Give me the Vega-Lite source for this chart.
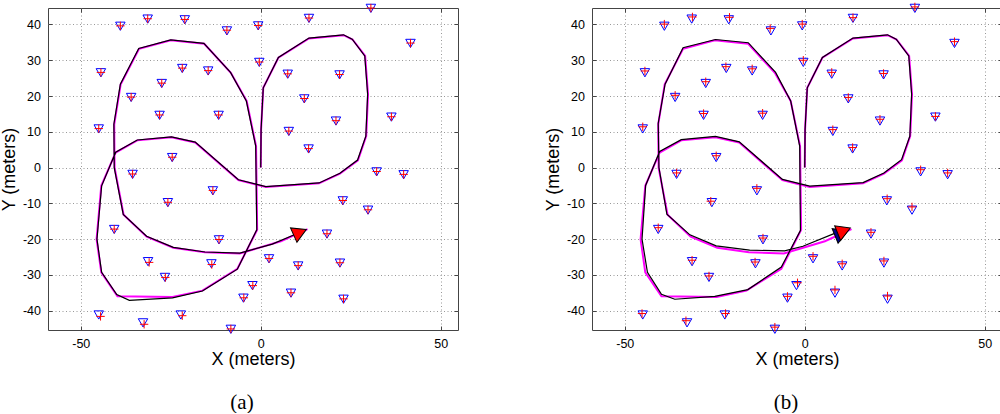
{
  "$schema": "https://vega.github.io/schema/vega-lite/v6.json",
  "background": "white",
  "padding": {"left": 0, "top": 0, "right": 0, "bottom": 0},
  "spacing": 85,
  "datasets": {
    "lm": [
      {"x": -39, "y": 39.5}, {"x": -31.4, "y": 41.5}, {"x": -21.1, "y": 41.3}, {"x": -9.4, "y": 38.2}, {"x": -0.7, "y": 39.6},
      {"x": -44.4, "y": 26.5}, {"x": -21.8, "y": 27.7}, {"x": -14.6, "y": 27}, {"x": -27.5, "y": 23.5}, {"x": -0.4, "y": 29.4},
      {"x": -36, "y": 19.6}, {"x": -28.1, "y": 14.6}, {"x": -11.7, "y": 14.6}, {"x": -45, "y": 10.8}, {"x": -24.6, "y": 2.8},
      {"x": 30.6, "y": 44.5}, {"x": 13.4, "y": 41.7}, {"x": 41.6, "y": 34.7}, {"x": 7.5, "y": 26.1}, {"x": 21.9, "y": 25.9},
      {"x": 12.1, "y": 19.2}, {"x": 36.3, "y": 14.1}, {"x": 20.9, "y": 13.0}, {"x": 7.8, "y": 10.1}, {"x": 13.3, "y": 5.2},
      {"x": 32.2, "y": -1.2}, {"x": 39.7, "y": -2.0}, {"x": -35.6, "y": -1.9}, {"x": -13.3, "y": -6.5}, {"x": -25.8, "y": -9.8},
      {"x": -40.7, "y": -17.3}, {"x": -11.6, "y": -20.2}, {"x": -31.3, "y": -26.3}, {"x": -13.7, "y": -26.9}, {"x": -26.6, "y": -30.7},
      {"x": -2.3, "y": -33}, {"x": -4.8, "y": -36.5}, {"x": 2.3, "y": -25.5}, {"x": -45, "y": -41.2}, {"x": -32.7, "y": -43.4},
      {"x": -22.2, "y": -41.2}, {"x": -8.3, "y": -45.2}, {"x": 22.8, "y": -9.3}, {"x": 29.8, "y": -11.9}, {"x": 18.4, "y": -18.6},
      {"x": 10.4, "y": -27.5}, {"x": 22.0, "y": -26.7}, {"x": 8.4, "y": -35.1}, {"x": 23, "y": -36.8}
    ],
    "ea": [
      {"x": -39, "y": 39.6}, {"x": -31.4, "y": 41.6}, {"x": -21.1, "y": 41.4}, {"x": -9.4, "y": 38.4}, {"x": -0.7, "y": 39.7},
      {"x": -44.4, "y": 26.6}, {"x": -21.8, "y": 27.8}, {"x": -14.6, "y": 27.1}, {"x": -27.5, "y": 23.6}, {"x": -0.4, "y": 29.5},
      {"x": -36, "y": 19.7}, {"x": -28.1, "y": 14.7}, {"x": -11.7, "y": 14.7}, {"x": -45, "y": 10.9}, {"x": -24.6, "y": 2.9},
      {"x": 30.6, "y": 44.6}, {"x": 13.4, "y": 41.8}, {"x": 41.6, "y": 34.8}, {"x": 7.5, "y": 26.2}, {"x": 21.9, "y": 26.0},
      {"x": 12.1, "y": 19.3}, {"x": 36.3, "y": 14.2}, {"x": 20.9, "y": 13.1}, {"x": 7.8, "y": 10.2}, {"x": 13.3, "y": 5.3},
      {"x": 32.2, "y": -1.1}, {"x": 39.7, "y": -1.9}, {"x": -35.6, "y": -1.8}, {"x": -13.3, "y": -6.4}, {"x": -25.8, "y": -9.7},
      {"x": -40.7, "y": -17.2}, {"x": -11.6, "y": -20.1}, {"x": -31.0, "y": -26.5}, {"x": -13.6, "y": -27.1}, {"x": -26.5, "y": -30.7},
      {"x": -2.2, "y": -33}, {"x": -4.7, "y": -36.4}, {"x": 2.3, "y": -25.4}, {"x": -44.5, "y": -41.6}, {"x": -32.4, "y": -43.8},
      {"x": -21.8, "y": -41.4}, {"x": -8.3, "y": -45.1}, {"x": 22.8, "y": -9.2}, {"x": 29.8, "y": -11.8}, {"x": 18.4, "y": -18.5},
      {"x": 10.4, "y": -27.4}, {"x": 22.0, "y": -26.6}, {"x": 8.4, "y": -35.0}, {"x": 23, "y": -36.7}
    ],
    "eb": [
      {"x": -39, "y": 40.1}, {"x": -31.2, "y": 42.1}, {"x": -20.9, "y": 42.0}, {"x": -9.6, "y": 38.9}, {"x": -0.7, "y": 40.1},
      {"x": -44.4, "y": 27.0}, {"x": -21.9, "y": 28.2}, {"x": -14.6, "y": 27.6}, {"x": -27.5, "y": 24.0}, {"x": -0.4, "y": 30.0},
      {"x": -36, "y": 20.2}, {"x": -28.1, "y": 15.1}, {"x": -11.7, "y": 15.2}, {"x": -45, "y": 11.4}, {"x": -24.6, "y": 3.3},
      {"x": 30.6, "y": 44.9}, {"x": 13.4, "y": 41.9}, {"x": 41.6, "y": 35.2}, {"x": 7.5, "y": 26.6}, {"x": 21.9, "y": 26.3},
      {"x": 12.1, "y": 19.6}, {"x": 36.3, "y": 14.3}, {"x": 20.9, "y": 13.5}, {"x": 7.8, "y": 10.6}, {"x": 13.3, "y": 5.6},
      {"x": 32.2, "y": -0.6}, {"x": 39.7, "y": -1.5}, {"x": -35.6, "y": -1.5}, {"x": -13.3, "y": -5.8}, {"x": -26.1, "y": -9.4},
      {"x": -40.7, "y": -16.8}, {"x": -11.6, "y": -19.7}, {"x": -31.3, "y": -25.9}, {"x": -13.8, "y": -26.4}, {"x": -26.6, "y": -30.3},
      {"x": -2.0, "y": -32.2}, {"x": -4.8, "y": -36.0}, {"x": 2.3, "y": -24.8}, {"x": -45.2, "y": -40.8}, {"x": -33.0, "y": -42.8},
      {"x": -22.0, "y": -40.8}, {"x": -8.3, "y": -44.6}, {"x": 22.9, "y": -8.7}, {"x": 29.8, "y": -11.0}, {"x": 18.4, "y": -18.1},
      {"x": 10.4, "y": -26.9}, {"x": 22.0, "y": -26.1}, {"x": 8.4, "y": -34.2}, {"x": 23, "y": -35.9}
    ],
    "tp": [
      {"i": 0, "x": 0, "y": 0}, {"i": 1, "x": 0.1, "y": 10.7}, {"i": 2, "x": 0.7, "y": 22.3}, {"i": 3, "x": 4.9, "y": 30.7},
      {"i": 4, "x": 13.4, "y": 36.1}, {"i": 5, "x": 23, "y": 37}, {"i": 6, "x": 25.5, "y": 35.8}, {"i": 7, "x": 29, "y": 31.2},
      {"i": 8, "x": 29.8, "y": 20.5}, {"i": 9, "x": 29.3, "y": 8.8}, {"i": 10, "x": 27, "y": 2}, {"i": 11, "x": 22, "y": -1.7},
      {"i": 12, "x": 16.2, "y": -4.4}, {"i": 13, "x": 1.4, "y": -5.4}, {"i": 14, "x": -6.2, "y": -3.5}, {"i": 15, "x": -18.2, "y": 7.0},
      {"i": 16, "x": -24.8, "y": 8.5}, {"i": 17, "x": -34.3, "y": 7.6}, {"i": 18, "x": -40.3, "y": 4.2}, {"i": 19, "x": -44.3, "y": -5.1},
      {"i": 20, "x": -45.6, "y": -20}, {"i": 21, "x": -44.3, "y": -29.3}, {"i": 22, "x": -39.8, "y": -36.0}, {"i": 23, "x": -24.5, "y": -36.2},
      {"i": 24, "x": -16.2, "y": -34.4}, {"i": 25, "x": -6.5, "y": -28.3}, {"i": 26, "x": -1.0, "y": -17.4}, {"i": 27, "x": -1.3, "y": 6.0},
      {"i": 28, "x": -3.9, "y": 18.6}, {"i": 29, "x": -8.3, "y": 26.5}, {"i": 30, "x": -15.7, "y": 34.6}, {"i": 31, "x": -25, "y": 35.6},
      {"i": 32, "x": -33.8, "y": 33.2}, {"i": 33, "x": -38.9, "y": 23.3}, {"i": 34, "x": -40.7, "y": 12.1}, {"i": 35, "x": -40.6, "y": 0},
      {"i": 36, "x": -38.1, "y": -13.2}, {"i": 37, "x": -31.7, "y": -19.3}, {"i": 38, "x": -24.3, "y": -22.4}, {"i": 39, "x": -15.5, "y": -23.7},
      {"i": 40, "x": -5.8, "y": -24.0}, {"i": 41, "x": 5.6, "y": -20.6}, {"i": 42, "x": 13.0, "y": -17.2}
    ],
    "pa": [
      {"i": 0, "x": 0, "y": 0}, {"i": 1, "x": 0.1, "y": 10.7}, {"i": 2, "x": 0.7, "y": 22.3}, {"i": 3, "x": 4.9, "y": 30.8},
      {"i": 4, "x": 13.4, "y": 36.2}, {"i": 5, "x": 23, "y": 37.1}, {"i": 6, "x": 25.4, "y": 35.9}, {"i": 7, "x": 28.9, "y": 31.2},
      {"i": 8, "x": 29.7, "y": 20.5}, {"i": 9, "x": 29.2, "y": 8.8}, {"i": 10, "x": 26.9, "y": 2.1}, {"i": 11, "x": 22, "y": -1.6},
      {"i": 12, "x": 16.2, "y": -4.3}, {"i": 13, "x": 1.4, "y": -5.3}, {"i": 14, "x": -6.2, "y": -3.4}, {"i": 15, "x": -18.2, "y": 7.1},
      {"i": 16, "x": -24.8, "y": 8.6}, {"i": 17, "x": -34.3, "y": 7.7}, {"i": 18, "x": -40.3, "y": 4.3}, {"i": 19, "x": -44.2, "y": -5.1},
      {"i": 20, "x": -45.5, "y": -20}, {"i": 21, "x": -44.2, "y": -29.3}, {"i": 22, "x": -40.0, "y": -35.5}, {"i": 23, "x": -36.5, "y": -37.1},
      {"i": 24, "x": -24.5, "y": -36.4}, {"i": 25, "x": -16.2, "y": -34.5}, {"i": 26, "x": -6.5, "y": -28.4}, {"i": 27, "x": -1.1, "y": -17.4},
      {"i": 28, "x": -1.4, "y": 6.0}, {"i": 29, "x": -4.0, "y": 18.6}, {"i": 30, "x": -8.4, "y": 26.6}, {"i": 31, "x": -15.8, "y": 34.7},
      {"i": 32, "x": -25, "y": 35.7}, {"i": 33, "x": -33.9, "y": 33.3}, {"i": 34, "x": -39.0, "y": 23.3}, {"i": 35, "x": -40.8, "y": 12.1},
      {"i": 36, "x": -40.7, "y": 0}, {"i": 37, "x": -38.2, "y": -13.1}, {"i": 38, "x": -31.7, "y": -19.2}, {"i": 39, "x": -24.3, "y": -22.3},
      {"i": 40, "x": -15.5, "y": -23.6}, {"i": 41, "x": -5.8, "y": -23.9}, {"i": 42, "x": 3.2, "y": -21.4}, {"i": 43, "x": 9.5, "y": -18.7}
    ],
    "pb": [
      {"i": 0, "x": 0, "y": 0}, {"i": 1, "x": 0.1, "y": 10.7}, {"i": 2, "x": 0.7, "y": 22.3}, {"i": 3, "x": 4.9, "y": 30.8},
      {"i": 4, "x": 13.4, "y": 36.2}, {"i": 5, "x": 23, "y": 37.1}, {"i": 6, "x": 25.4, "y": 35.9}, {"i": 7, "x": 28.9, "y": 31.2},
      {"i": 8, "x": 29.7, "y": 20.5}, {"i": 9, "x": 29.2, "y": 8.8}, {"i": 10, "x": 26.9, "y": 2.2}, {"i": 11, "x": 22, "y": -1.5},
      {"i": 12, "x": 16.2, "y": -4.2}, {"i": 13, "x": 1.4, "y": -5.2}, {"i": 14, "x": -6.2, "y": -3.3}, {"i": 15, "x": -18.2, "y": 7.2},
      {"i": 16, "x": -24.8, "y": 8.7}, {"i": 17, "x": -34.3, "y": 7.8}, {"i": 18, "x": -40.3, "y": 4.5}, {"i": 19, "x": -44.2, "y": -5.0},
      {"i": 20, "x": -45.2, "y": -20.0}, {"i": 21, "x": -43.7, "y": -29.3}, {"i": 22, "x": -39.8, "y": -35.4}, {"i": 23, "x": -36.1, "y": -36.8},
      {"i": 24, "x": -25, "y": -36.0}, {"i": 25, "x": -15.8, "y": -34.1}, {"i": 26, "x": -6.5, "y": -27.8}, {"i": 27, "x": -1.2, "y": -17.6},
      {"i": 28, "x": -1.4, "y": 6.0}, {"i": 29, "x": -3.9, "y": 18.6}, {"i": 30, "x": -8.1, "y": 26.6}, {"i": 31, "x": -15.7, "y": 34.9},
      {"i": 32, "x": -24.8, "y": 35.8}, {"i": 33, "x": -33.8, "y": 33.5}, {"i": 34, "x": -38.8, "y": 23.3}, {"i": 35, "x": -40.7, "y": 12.4},
      {"i": 36, "x": -40.5, "y": 0}, {"i": 37, "x": -38.3, "y": -13.0}, {"i": 38, "x": -31.9, "y": -18.8}, {"i": 39, "x": -24.6, "y": -21.9},
      {"i": 40, "x": -15.3, "y": -23.1}, {"i": 41, "x": -5.6, "y": -23.3}, {"i": 42, "x": -0.5, "y": -22.0}, {"i": 43, "x": 8.3, "y": -18.4}
    ],
    "pose": [
      {"p": "a", "c": "r", "x": 10.9, "y": -18.1, "a": 336},
      {"p": "b", "c": "b", "x": 10.2, "y": -18.4, "a": 338},
      {"p": "b", "c": "r", "x": 10.9, "y": -17.6, "a": 338}
    ]
  },
  "hconcat": [
    {
      "width": 410, "height": 322,
      "title": {"text": "(a)", "orient": "bottom", "anchor": "middle", "frame": "group", "dx": -11, "offset": 23, "font": "Liberation Serif", "fontSize": 21, "fontWeight": "normal", "color": "#000"},
      "resolve": {"axis": {"x": "independent", "y": "independent"}},
      "layer": [
        {"data": {"name": "tp"}, "mark": {"type": "line", "color": "#ff00ff", "strokeWidth": 2},
         "encoding": {
           "x": {"field": "x", "type": "quantitative", "scale": {"domain": [-59.1, 54.8], "nice": false, "zero": false},
                 "axis": {"values": [-50, 0, 50], "title": "X (meters)", "labelExpr": "'' + datum.value", "grid": true, "labelPadding": 11, "titlePadding": 1, "labelFlush": false}},
           "y": {"field": "y", "type": "quantitative", "scale": {"domain": [-45.4, 44.6], "nice": false, "zero": false},
                 "axis": {"values": [-40, -30, -20, -10, 0, 10, 20, 30, 40], "title": "Y (meters)", "labelExpr": "'' + datum.value", "grid": true, "labelPadding": 11.5, "titlePadding": 3.5, "labelFlush": false}},
           "order": {"field": "i", "type": "quantitative"}}},
        {"data": {"name": "pa"}, "mark": {"type": "line", "color": "#000000", "strokeWidth": 1.2},
         "encoding": {
           "x": {"field": "x", "type": "quantitative", "scale": {"domain": [-59.1, 54.8], "nice": false, "zero": false},
                 "axis": {"orient": "top", "values": [-50, 0, 50], "title": null, "labels": false, "grid": false}},
           "y": {"field": "y", "type": "quantitative", "scale": {"domain": [-45.4, 44.6], "nice": false, "zero": false},
                 "axis": {"orient": "right", "values": [-40, -30, -20, -10, 0, 10, 20, 30, 40], "title": null, "labels": false, "grid": false}},
           "order": {"field": "i", "type": "quantitative"}}},
        {"data": {"name": "lm"}, "mark": {"type": "point", "shape": "triangle-down", "size": 90, "filled": false, "color": "#0000ff", "strokeWidth": 1, "opacity": 1},
         "encoding": {
           "x": {"field": "x", "type": "quantitative", "scale": {"domain": [-59.1, 54.8], "nice": false, "zero": false}, "axis": null},
           "y": {"field": "y", "type": "quantitative", "scale": {"domain": [-45.4, 44.6], "nice": false, "zero": false}, "axis": null}}},
        {"data": {"name": "ea"}, "mark": {"type": "point", "shape": "M-1,0L1,0M0,-1L0,1", "size": 70, "filled": false, "color": "#ff0000", "strokeWidth": 1, "opacity": 1},
         "encoding": {
           "x": {"field": "x", "type": "quantitative", "scale": {"domain": [-59.1, 54.8], "nice": false, "zero": false}, "axis": null},
           "y": {"field": "y", "type": "quantitative", "scale": {"domain": [-45.4, 44.6], "nice": false, "zero": false}, "axis": null}}},
        {"data": {"name": "pose"}, "transform": [{"filter": "datum.p === 'a'"}],
         "mark": {"type": "point", "shape": "triangle-right", "size": 250, "filled": true, "stroke": "#000000", "strokeWidth": 1, "opacity": 1},
         "encoding": {
           "x": {"field": "x", "type": "quantitative", "scale": {"domain": [-59.1, 54.8], "nice": false, "zero": false}, "axis": null},
           "y": {"field": "y", "type": "quantitative", "scale": {"domain": [-45.4, 44.6], "nice": false, "zero": false}, "axis": null},
           "fill": {"field": "c", "type": "nominal", "scale": {"domain": ["b", "r"], "range": ["#00008b", "#ff0000"]}, "legend": null},
           "angle": {"field": "a", "type": "quantitative", "scale": null}}}
      ]
    },
    {
      "width": 410, "height": 322,
      "title": {"text": "(b)", "orient": "bottom", "anchor": "middle", "frame": "group", "dx": -11, "offset": 23, "font": "Liberation Serif", "fontSize": 21, "fontWeight": "normal", "color": "#000"},
      "resolve": {"axis": {"x": "independent", "y": "independent"}},
      "layer": [
        {"data": {"name": "tp"}, "mark": {"type": "line", "color": "#ff00ff", "strokeWidth": 2},
         "encoding": {
           "x": {"field": "x", "type": "quantitative", "scale": {"domain": [-59.1, 54.8], "nice": false, "zero": false},
                 "axis": {"values": [-50, 0, 50], "title": "X (meters)", "labelExpr": "'' + datum.value", "grid": true, "labelPadding": 11, "titlePadding": 1, "labelFlush": false}},
           "y": {"field": "y", "type": "quantitative", "scale": {"domain": [-45.4, 44.6], "nice": false, "zero": false},
                 "axis": {"values": [-40, -30, -20, -10, 0, 10, 20, 30, 40], "title": "Y (meters)", "labelExpr": "'' + datum.value", "grid": true, "labelPadding": 11.5, "titlePadding": 3.5, "labelFlush": false}},
           "order": {"field": "i", "type": "quantitative"}}},
        {"data": {"name": "pb"}, "mark": {"type": "line", "color": "#000000", "strokeWidth": 1.2},
         "encoding": {
           "x": {"field": "x", "type": "quantitative", "scale": {"domain": [-59.1, 54.8], "nice": false, "zero": false},
                 "axis": {"orient": "top", "values": [-50, 0, 50], "title": null, "labels": false, "grid": false}},
           "y": {"field": "y", "type": "quantitative", "scale": {"domain": [-45.4, 44.6], "nice": false, "zero": false},
                 "axis": {"orient": "right", "values": [-40, -30, -20, -10, 0, 10, 20, 30, 40], "title": null, "labels": false, "grid": false}},
           "order": {"field": "i", "type": "quantitative"}}},
        {"data": {"name": "lm"}, "mark": {"type": "point", "shape": "triangle-down", "size": 90, "filled": false, "color": "#0000ff", "strokeWidth": 1, "opacity": 1},
         "encoding": {
           "x": {"field": "x", "type": "quantitative", "scale": {"domain": [-59.1, 54.8], "nice": false, "zero": false}, "axis": null},
           "y": {"field": "y", "type": "quantitative", "scale": {"domain": [-45.4, 44.6], "nice": false, "zero": false}, "axis": null}}},
        {"data": {"name": "eb"}, "mark": {"type": "point", "shape": "M-1,0L1,0M0,-1L0,1", "size": 70, "filled": false, "color": "#ff0000", "strokeWidth": 1, "opacity": 1},
         "encoding": {
           "x": {"field": "x", "type": "quantitative", "scale": {"domain": [-59.1, 54.8], "nice": false, "zero": false}, "axis": null},
           "y": {"field": "y", "type": "quantitative", "scale": {"domain": [-45.4, 44.6], "nice": false, "zero": false}, "axis": null}}},
        {"data": {"name": "pose"}, "transform": [{"filter": "datum.p === 'b'"}],
         "mark": {"type": "point", "shape": "triangle-right", "size": 250, "filled": true, "stroke": "#000000", "strokeWidth": 1, "opacity": 1},
         "encoding": {
           "x": {"field": "x", "type": "quantitative", "scale": {"domain": [-59.1, 54.8], "nice": false, "zero": false}, "axis": null},
           "y": {"field": "y", "type": "quantitative", "scale": {"domain": [-45.4, 44.6], "nice": false, "zero": false}, "axis": null},
           "fill": {"field": "c", "type": "nominal", "scale": {"domain": ["b", "r"], "range": ["#00008b", "#ff0000"]}, "legend": null},
           "angle": {"field": "a", "type": "quantitative", "scale": null}}}
      ]
    }
  ],
  "config": {
    "font": "Liberation Sans",
    "view": {"stroke": "#444444", "strokeWidth": 1},
    "axis": {
      "domain": false,
      "labelFont": "Liberation Sans", "labelFontSize": 12.5, "labelColor": "#000000",
      "titleFont": "Liberation Sans", "titleFontSize": 18, "titleFontWeight": "normal", "titleColor": "#000000",
      "ticks": true, "tickSize": -4, "tickColor": "#444444", "tickWidth": 1,
      "gridColor": "#999999", "gridDash": [1, 2.5], "gridWidth": 1, "gridOpacity": 1
    }
  }
}
